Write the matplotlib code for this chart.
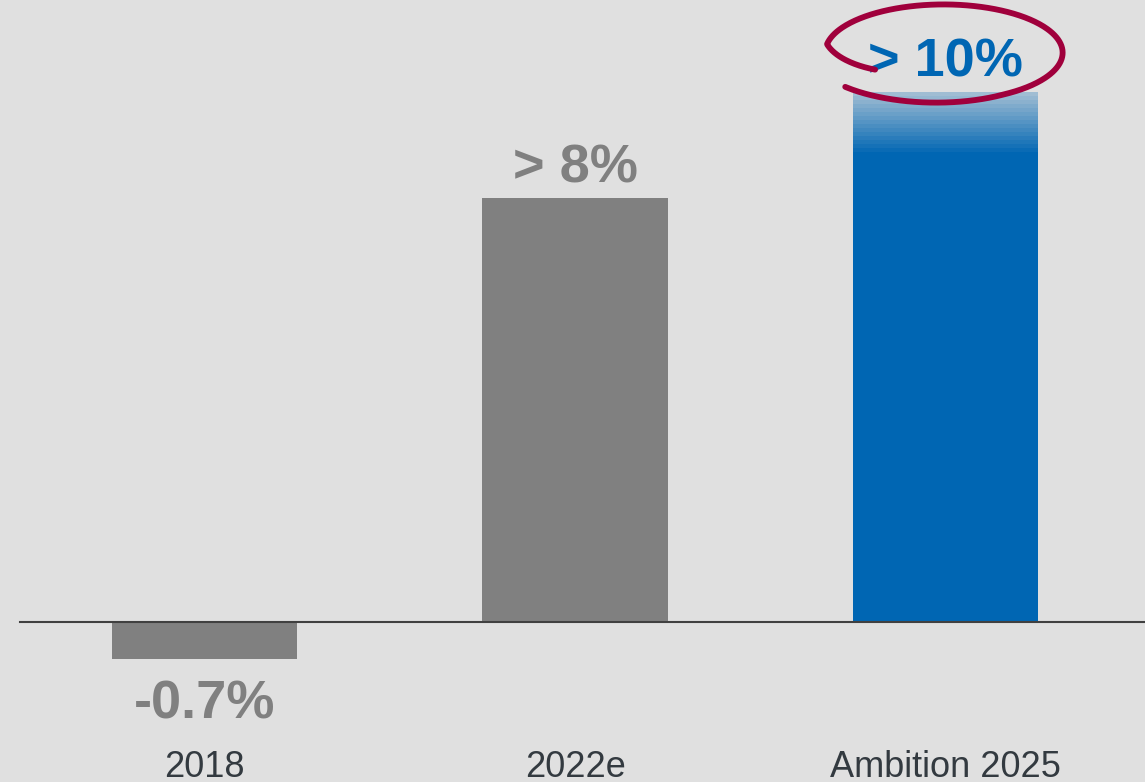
import numpy as np
import matplotlib
matplotlib.use("Agg")
import matplotlib.pyplot as plt

# data -----------------------------------------------------------
categories = ["2018", "2022e", "Ambition 2025"]
values = [-0.7, 8.0, 10.0]
value_labels = ["-0.7%", "> 8%", "> 10%"]

# styling --------------------------------------------------------
BG = "#e0e0e0"
GREY = "#808080"
BLUE = "#0066b3"
RING = "#a0003c"
bar_colors = [GREY, GREY, BLUE]
label_colors = [GREY, GREY, BLUE]

plt.rcParams["font.family"] = ["Liberation Sans", "DejaVu Sans"]

fig = plt.figure(figsize=(11.45, 7.82), dpi=100, facecolor=BG)
ax = fig.add_axes([0, 0, 1, 1])
ax.set_facecolor(BG)

x = np.arange(len(categories))
width = 0.5
ax.bar(x, values, width=width, color=bar_colors, zorder=2)

ax.set_xlim(-0.552, 2.538)
ax.set_ylim(-3.02, 11.74)
ax.axis("off")

# baseline
ax.axhline(0, xmin=20 / 1145, xmax=1, color="#404040", lw=1.5, zorder=3)

# fade at top of the ambition bar
grad_h = 1.2
alpha = np.linspace(0.72, 0.0, 16)
fade = np.zeros((16, 1, 4))
fade[..., :3] = np.array([0xE0, 0xE0, 0xE0]) / 255
fade[:, 0, 3] = alpha
ax.imshow(fade, extent=(x[2] - width / 2, x[2] + width / 2, values[2] - grad_h, values[2]),
          aspect="auto", interpolation="nearest", origin="upper", zorder=2.5)

# value labels
for xi, v, lab, c in zip(x, values, value_labels, label_colors):
    off = 11.5 if v >= 0 else -42.5
    ax.annotate(lab, (xi, v), xytext=(0, off), textcoords="offset points",
                ha="center", va="baseline", fontsize=39, fontweight="bold",
                color=c, zorder=4)

# category labels
for xi, cat in zip(x, categories):
    ax.text(xi, -2.92, cat, ha="center", va="baseline", fontsize=26, color="#333a40")

# hand drawn ring round the ambition label
cx, cy = x[2] - 0.007, values[2] + 0.75
rx, ry = 0.318, 0.9
theta = np.radians(np.linspace(212, -139, 400))
r = np.interp(np.degrees(theta), [-139, -60, 170, 212], [1.1, 1.02, 1.0, 0.68])
ax.plot(cx + rx * r * np.cos(theta), cy + ry * r * np.sin(theta),
        color=RING, lw=4.2, solid_capstyle="round", zorder=5)

fig.savefig("out.png", dpi=100, facecolor=BG)
